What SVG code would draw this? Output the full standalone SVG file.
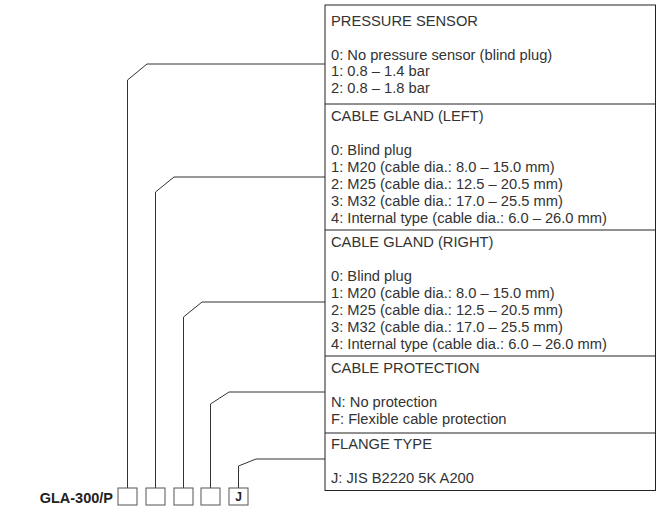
<svg xmlns="http://www.w3.org/2000/svg" width="660" height="506" viewBox="0 0 660 506">
<style>
.t{font-family:"Liberation Sans",Arial,sans-serif;font-size:14.7px;fill:#333}
.tbl{fill:none;stroke:#222;stroke-width:1}
.sep{stroke:#222;stroke-width:1}
.c{fill:none;stroke:#333;stroke-width:1}
.box{fill:#fff;stroke:#555;stroke-width:1}
.code{font-family:"Liberation Sans",Arial,sans-serif;font-weight:bold;fill:#222}
</style>
<rect width="660" height="506" fill="#fff"/>
<g id="connectors">
<path class="c" d="M127.5,488 V80 L147,64 H325"/>
<path class="c" d="M155.5,488 V192 L174,177 H325"/>
<path class="c" d="M183.5,488 V317 L202,302 H325"/>
<path class="c" d="M210.5,488 V404 L229,392 H325"/>
<path class="c" d="M238.5,488 V466 L256,459 H325"/>
</g>
<g id="table">
<rect class="tbl" x="325" y="5" width="330.5" height="485.5"/>
</g>
<g id="pressure-sensor">
<line class="sep" x1="325" y1="104" x2="655.5" y2="104"/>
<text class="t" x="331" y="25.5">PRESSURE SENSOR</text>
<text class="t" x="331" y="59.5">0: No pressure sensor (blind plug)</text>
<text class="t" x="331" y="76">1: 0.8 – 1.4 bar</text>
<text class="t" x="331" y="92.5">2: 0.8 – 1.8 bar</text>
</g>
<g id="cable-gland-left">
<line class="sep" x1="325" y1="230" x2="655.5" y2="230"/>
<text class="t" x="331" y="121">CABLE GLAND (LEFT)</text>
<text class="t" x="331" y="155">0: Blind plug</text>
<text class="t" x="331" y="172">1: M20 (cable dia.: 8.0 – 15.0 mm)</text>
<text class="t" x="331" y="189">2: M25 (cable dia.: 12.5 – 20.5 mm)</text>
<text class="t" x="331" y="206">3: M32 (cable dia.: 17.0 – 25.5 mm)</text>
<text class="t" x="331" y="223">4: Internal type (cable dia.: 6.0 – 26.0 mm)</text>
</g>
<g id="cable-gland-right">
<line class="sep" x1="325" y1="356" x2="655.5" y2="356"/>
<text class="t" x="331" y="247">CABLE GLAND (RIGHT)</text>
<text class="t" x="331" y="281">0: Blind plug</text>
<text class="t" x="331" y="298">1: M20 (cable dia.: 8.0 – 15.0 mm)</text>
<text class="t" x="331" y="315">2: M25 (cable dia.: 12.5 – 20.5 mm)</text>
<text class="t" x="331" y="332">3: M32 (cable dia.: 17.0 – 25.5 mm)</text>
<text class="t" x="331" y="349">4: Internal type (cable dia.: 6.0 – 26.0 mm)</text>
</g>
<g id="cable-protection">
<line class="sep" x1="325" y1="433" x2="655.5" y2="433"/>
<text class="t" x="331" y="373">CABLE PROTECTION</text>
<text class="t" x="331" y="407">N: No protection</text>
<text class="t" x="331" y="424">F: Flexible cable protection</text>
</g>
<g id="flange-type">
<text class="t" x="331" y="449">FLANGE TYPE</text>
<text class="t" x="331" y="483">J: JIS B2220 5K A200</text>
</g>
<g id="model-code">
<text class="code" x="113" y="503" font-size="14.5" text-anchor="end">GLA-300/P</text>
<rect class="box" x="118" y="488" width="19" height="17"/>
<rect class="box" x="146" y="488" width="19" height="17"/>
<rect class="box" x="174" y="488" width="19" height="17"/>
<rect class="box" x="201" y="488" width="19" height="17"/>
<rect class="box" x="229" y="488" width="19" height="17"/>
<text class="code" x="238.5" y="501" font-size="12" text-anchor="middle">J</text>
</g>
</svg>
